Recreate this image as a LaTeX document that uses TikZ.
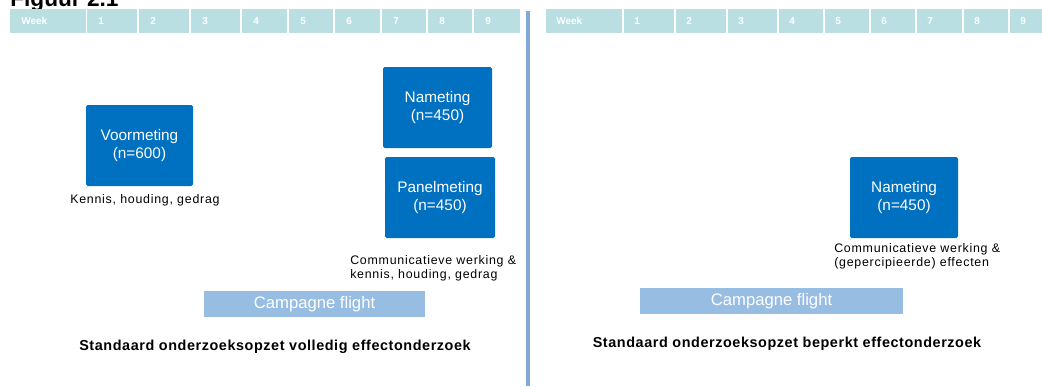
\documentclass[tikz,border=0pt]{standalone}
\usepackage{fontspec}
\setmainfont{Liberation Sans}
\usetikzlibrary{fit}
\definecolor{boxblue}{HTML}{0070C0}
\definecolor{headcell}{HTML}{B9DFE3}
\definecolor{flight}{HTML}{97BDE3}
\definecolor{divider}{HTML}{7EA9D9}
\begin{document}
\begin{tikzpicture}[x=0.75pt,y=-0.75pt,
  meas/.style={fill=boxblue, rounded corners=1.2pt, inner sep=0pt, text=white,
    font=\fontsize{11.5}{14}\selectfont, align=center},
  cell/.style={fill=headcell, inner sep=0pt},
  celltxt/.style={text=white, font=\bfseries\fontsize{7.5}{8}\selectfont, anchor=west, inner sep=0pt},
  flightbar/.style={fill=flight, inner sep=0pt, text=white, font=\fontsize{12.5}{14}\selectfont},
  note/.style={anchor=north west, align=left, inner sep=0pt,
    font=\fontsize{9.3}{11}\selectfont\addfontfeature{LetterSpace=6}},
  titletxt/.style={font=\bfseries\fontsize{10.8}{12}\selectfont\addfontfeature{LetterSpace=4}, inner sep=0pt}]
\useasboundingbox (0,0) rectangle (1042,386);
% figure caption (cut off at top)
\node[anchor=base west, inner sep=0pt, font=\bfseries\fontsize{17}{20}\selectfont] (fig) at (10,6) {Figuur 2.1};
% header left
\foreach \a/\b/\t [count=\k] in {10/86/Week, 87/137/1, 139/189/2, 191/240/3, 242/287/4, 289/333/5, 335/380/6, 382/426/7, 428/472/8, 474/520/9} {
  \node[cell, fit={(\a,9) (\b,33)}] (L\k) {};
  \node[celltxt] (Lt\k) at (\a+11,21) {\t};
}
% header right
\foreach \a/\b/\t [count=\k] in {546/622/Week, 624/674/1, 676/726/2, 728/777/3, 779/823/4, 825/869/5, 871/915/6, 917/962/7, 964/1008/8, 1010/1050/9} {
  \node[cell, fit={(\a,9) (\b,33)}] (R\k) {};
  \node[celltxt] (Rt\k) at (\a+10,21) {\t};
}
% divider
\coordinate (dtop) at (527.5,11);
\coordinate (dbot) at (527.5,386);
\draw[divider, line width=3pt] (dtop) -- (dbot);
% left panel
\node[meas, fit={(86,105) (193,186)}] (voor) {};
\node[meas] (voort) at (voor.center) {Voormeting\\(n=600)};
\node[note] (voorn) at (70,194) {Kennis, houding, gedrag};
\node[meas, fit={(383,67) (492,148)}] (naL) {};
\node[meas] (naLt) at (naL.center) {Nameting\\(n=450)};
\node[meas, fit={(385,157) (495,238)}] (pan) {};
\node[meas] (pant) at (pan.center) {Panelmeting\\(n=450)};
\node[note] (pann) at (350,255) {Communicatieve werking \&\\kennis, houding, gedrag};
\node[flightbar, fit={(204,291) (425,317)}] (flL) {};
\node[flightbar] (flLt) at (flL.center) {Campagne flight};
\node[titletxt] (tL) at (275,347) {Standaard onderzoeksopzet volledig effectonderzoek};
% right panel
\node[meas, fit={(850,157) (958,238)}] (naR) {};
\node[meas] (naRt) at (naR.center) {Nameting\\(n=450)};
\node[note] (naRn) at (834,243) {Communicatieve werking \&\\(gepercipieerde) effecten};
\node[flightbar, fit={(640,288) (903,314)}] (flR) {};
\node[flightbar] (flRt) at (flR.center) {Campagne flight};
\node[titletxt] (tR) at (787,344) {Standaard onderzoeksopzet beperkt effectonderzoek};
\end{tikzpicture}
\end{document}
